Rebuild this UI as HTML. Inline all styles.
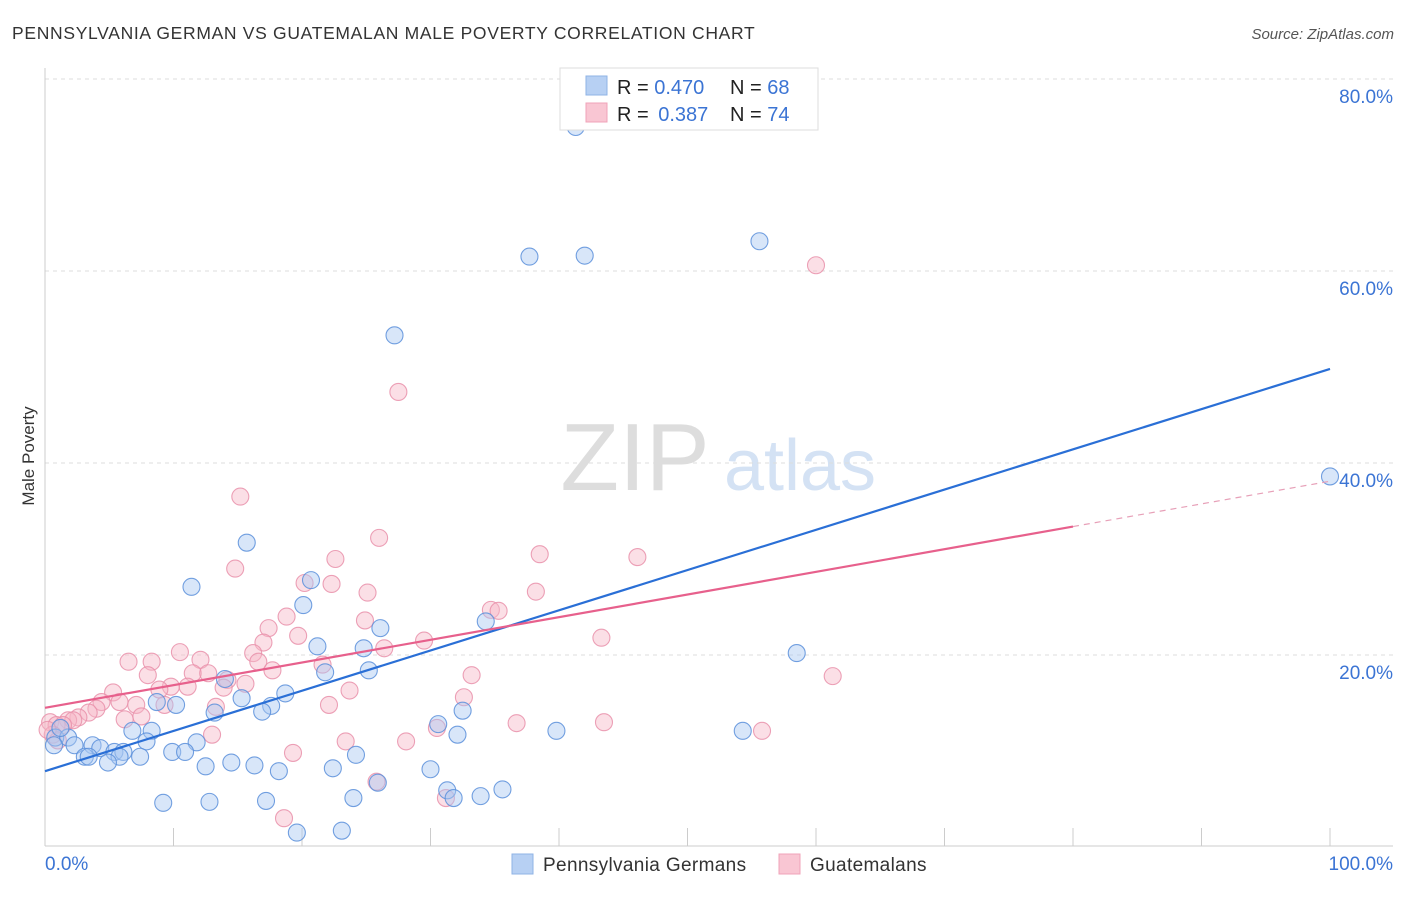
<!DOCTYPE html>
<html><head><meta charset="utf-8"><style>
body{margin:0;background:#fff;font-family:"Liberation Sans",sans-serif;}
svg text{font-family:"Liberation Sans",sans-serif;}
</style></head><body>
<svg id="chart" width="1406" height="892" xmlns="http://www.w3.org/2000/svg">
<text x="12" y="39" font-size="17.5" fill="#333" letter-spacing="0.68">PENNSYLVANIA GERMAN VS GUATEMALAN MALE POVERTY CORRELATION CHART</text>
<text x="1394" y="39" font-size="15" fill="#555" font-style="italic" text-anchor="end">Source: ZipAtlas.com</text>
<text x="34" y="456" font-size="17" fill="#333" text-anchor="middle" transform="rotate(-90 34 456)">Male Poverty</text>
<g>
<text x="635" y="490" font-size="96" fill="#ddd" font-family="Liberation Serif" text-anchor="middle">ZIP</text>
<text x="800" y="490" font-size="72" fill="#d4e2f4" text-anchor="middle">atlas</text>
</g>
<g id="grid"></g><g id="axes"></g><g id="pts"></g><g id="lines"></g>
<g>
<rect x="560" y="68" width="258" height="62" fill="#fff" stroke="#ddd"/>
<rect x="586" y="76" width="21" height="19" fill="#b7d0f3" stroke="#8fb3e6"/>
<rect x="586" y="103" width="21" height="19" fill="#f9c6d3" stroke="#f0a3b8"/>
<text x="617" y="94" font-size="20" fill="#222">R = <tspan fill="#3b74d4">0.470</tspan></text>
<text x="730" y="94" font-size="20" fill="#222">N = <tspan fill="#3b74d4">68</tspan></text>
<text x="617" y="121" font-size="20" fill="#222">R = <tspan fill="#3b74d4" dx="4">0.387</tspan></text>
<text x="730" y="121" font-size="20" fill="#222">N = <tspan fill="#3b74d4">74</tspan></text>
</g>
<g>
<rect x="512" y="854" width="21" height="20" fill="#b7d0f3" stroke="#8fb3e6"/>
<text x="543" y="871" font-size="19" fill="#333" letter-spacing="0.35">Pennsylvania Germans</text>
<rect x="779" y="854" width="21" height="20" fill="#f9c6d3" stroke="#f0a3b8"/>
<text x="810" y="871" font-size="19" fill="#333" letter-spacing="0.35">Guatemalans</text>
</g>
</svg>
<script>
const yTicks=[20,40,60,80];
const xLabels=["0.0%","100.0%"];
const blueX=[41.3,37.7,42.0,55.6,27.2,100,15.7,11.4,20.7,20.1,26.1,34.3,21.2,24.8,21.8,25.2,58.5,14.0,18.7,15.3,8.7,10.2,17.6,13.2,16.9,32.5,30.6,32.1,39.8,54.3,6.8,8.3,7.9,11.8,0.8,1.8,2.3,3.7,4.3,5.4,6.1,3.1,3.4,5.8,7.4,9.9,10.9,4.9,12.5,14.5,16.3,18.2,22.4,24.2,30.0,31.3,31.8,33.9,35.6,25.9,9.2,12.8,17.2,24.0,19.6,23.1,0.7,1.2];
const blueY=[75.0,61.5,61.6,63.1,53.3,38.6,31.7,27.1,27.8,25.2,22.8,23.5,20.9,20.7,18.2,18.4,20.2,17.5,16.0,15.5,15.1,14.8,14.7,14.0,14.1,14.2,12.8,11.7,12.1,12.1,12.1,12.1,11.0,10.9,11.4,11.4,10.6,10.6,10.3,9.9,9.9,9.4,9.4,9.4,9.4,9.9,9.9,8.8,8.4,8.8,8.5,7.9,8.2,9.6,8.1,5.9,5.1,5.3,6.0,6.7,4.6,4.7,4.8,5.1,1.5,1.7,10.6,12.4];
const pinkX=[60.0,27.5,15.2,26.0,22.6,38.5,46.1,14.8,20.2,22.3,25.1,38.2,34.7,35.3,18.8,24.9,17.4,19.7,29.5,43.3,26.4,17.0,16.2,10.5,6.5,8.3,12.1,16.6,21.6,17.7,11.5,12.7,8.0,33.2,61.3,14.2,15.6,9.8,11.1,8.9,13.9,5.3,23.7,32.6,4.4,5.8,7.1,9.3,4.0,3.4,2.6,22.1,13.3,7.5,6.2,1.8,2.2,0.4,0.9,1.4,36.7,43.5,30.5,55.8,13.0,23.4,28.1,19.3,25.8,31.2,18.6,0.6,1.0,0.2];
const pinkY=[60.6,47.4,36.5,32.2,30.0,30.5,30.2,29.0,27.5,27.4,26.5,26.6,24.7,24.6,24.0,23.6,22.8,22.0,21.5,21.8,20.7,21.3,20.2,20.3,19.3,19.3,19.5,19.3,19.0,18.4,18.1,18.1,17.9,17.9,17.8,17.4,17.0,16.7,16.7,16.4,16.6,16.1,16.3,15.6,15.1,15.1,14.8,14.8,14.4,14.0,13.5,14.8,14.6,13.6,13.3,13.2,13.2,13.0,12.7,12.7,12.9,13.0,12.4,12.1,11.7,11.0,11.0,9.8,6.8,5.1,3.0,11.7,11.1,12.2];
const blueTrend=[7.9,49.8];
const pinkTrend=[14.5,38.1];
const pinkSolidEnd=80;
const NS="http://www.w3.org/2000/svg";
const X=v=>45+v*12.85, Y=v=>847-v*9.6;
function mk(t,a,p){const e=document.createElementNS(NS,t);for(const k in a)e.setAttribute(k,a[k]);document.getElementById(p).appendChild(e);return e;}
yTicks.forEach(t=>{
 const l=mk('line',{x1:45,x2:1393,y1:Y(t),y2:Y(t),stroke:'#ddd','stroke-dasharray':'4,4'},'grid');
 
 
 const tx=mk('text',{x:1393,y:Y(t)+24,'font-size':19,fill:'#3b74d4','text-anchor':'end'},'grid');
 tx.textContent=t.toFixed(1)+'%';
 
 
});
const ax=mk('line',{x1:45,x2:45,y1:68,y2:846,stroke:'#ccc'},'axes');


const bx=mk('line',{x1:45,x2:1393,y1:846,y2:846,stroke:'#ccc'},'axes');


for(let i=1;i<=10;i++){const t=mk('line',{x1:X(i*10),x2:X(i*10),y1:828,y2:846,stroke:'#ccc'},'axes');
 
 }
[[0,'start',45],[1,'end',1393]].forEach(([i,a,x])=>{const t=mk('text',{x:x,y:870,'font-size':19,fill:'#3b74d4','text-anchor':a},'axes');t.textContent=xLabels[i];
 
 });
function pts(xs,ys,fill,stroke,name){xs.forEach((x,i)=>{const c=mk('circle',{cx:X(x),cy:Y(ys[i]),r:8.5,fill:fill,'fill-opacity':0.45,stroke:stroke,'stroke-width':1.1,'stroke-opacity':0.85},'pts');
 
 });}
pts(pinkX,pinkY,'#f6b8c8','#e990aa','guatemalan-point');
pts(blueX,blueY,'#a9c8f1','#5a8fdb','pennsylvania-german-point');
const bl=mk('line',{x1:X(0),y1:Y(blueTrend[0]),x2:X(100),y2:Y(blueTrend[1]),stroke:'#2a6fd6','stroke-width':2.2},'lines');


const pe=pinkTrend[0]+(pinkTrend[1]-pinkTrend[0])*pinkSolidEnd/100;
const pl=mk('line',{x1:X(0),y1:Y(pinkTrend[0]),x2:X(pinkSolidEnd),y2:Y(pe),stroke:'#e7608c','stroke-width':2.2},'lines');


const pd=mk('line',{x1:X(pinkSolidEnd),y1:Y(pe),x2:X(100),y2:Y(pinkTrend[1]),stroke:'#e7a0b8','stroke-width':1.2,'stroke-dasharray':'6,5'},'lines');


</script>
</body></html>
